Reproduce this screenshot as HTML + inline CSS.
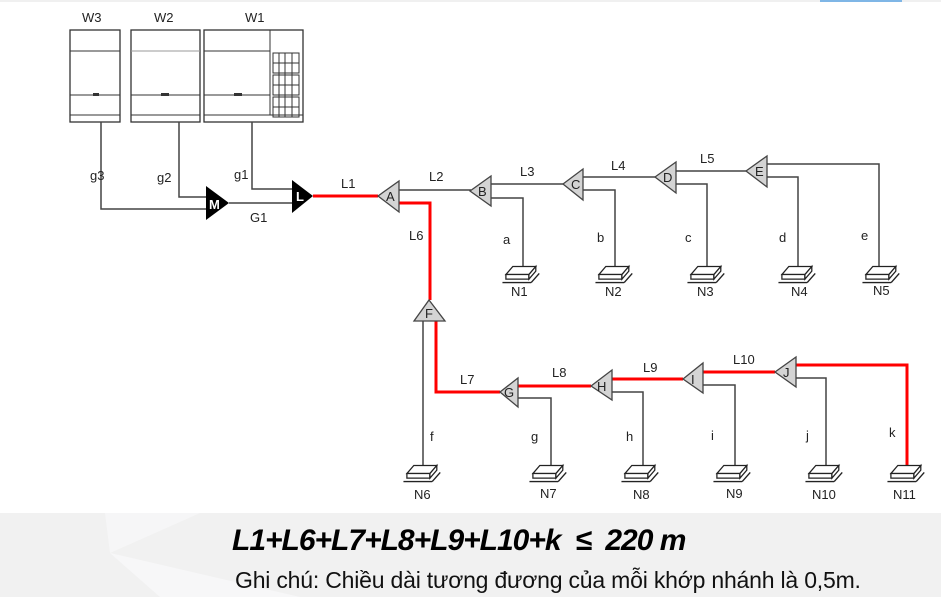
<!DOCTYPE html>
<html><head><meta charset="utf-8"><style>
html,body{margin:0;padding:0;background:#fff;}
body{width:941px;height:597px;overflow:hidden;position:relative;}
svg text{font-family:"Liberation Sans",Arial,sans-serif;font-size:13px;fill:#222;}
.band{position:absolute;left:0;top:513px;width:941px;height:84px;background:#f1f1f1;}
.f1{position:absolute;left:232px;top:524px;font-family:"Liberation Sans",sans-serif;font-weight:bold;font-style:italic;font-size:30px;letter-spacing:-1px;color:#000;white-space:nowrap;}
.f2{position:absolute;left:235px;top:567px;font-family:"Liberation Sans",sans-serif;font-size:23px;color:#111;letter-spacing:-0.2px;white-space:nowrap;}
</style></head><body>
<svg width="941" height="597" style="position:absolute;left:0;top:0">
<rect x="0" y="0" width="941" height="2" fill="#f0f0f0"/>
<rect x="820" y="0" width="82" height="2" fill="#7fb6e6"/>
<defs>
<g id="nd" transform="scale(1.15)">
<polygon points="-14,-3 -8,-10 12,-10 6,-3" fill="#fff" stroke="#222" stroke-width="1.1"/>
<polygon points="-14,-3 6,-3 6,1 -14,1" fill="#fff" stroke="#222" stroke-width="1.1"/>
<polygon points="6,-3 12,-10 12,-6 6,1" fill="#fff" stroke="#222" stroke-width="1.1"/>
<line x1="-17" y1="4" x2="8" y2="4" stroke="#222" stroke-width="1.2"/>
<line x1="8" y1="4" x2="15" y2="-4" stroke="#222" stroke-width="1.2"/>
</g>
</defs>
<g fill="#fff" stroke="#333" stroke-width="1.3">
<rect x="70" y="30" width="50" height="92"/>
<rect x="131" y="30" width="69" height="92"/>
<rect x="204" y="30" width="99" height="92"/>
</g>
<g stroke="#333" stroke-width="1">
<line x1="70" y1="51" x2="120" y2="51"/><line x1="70" y1="95" x2="120" y2="95"/><line x1="70" y1="115" x2="120" y2="115"/>
<line x1="131" y1="51" x2="200" y2="51" stroke="#999"/><line x1="131" y1="95" x2="200" y2="95"/><line x1="131" y1="115" x2="200" y2="115"/>
<line x1="204" y1="51" x2="270" y2="51"/><line x1="204" y1="95" x2="270" y2="95"/><line x1="204" y1="115" x2="303" y2="115"/>
<line x1="270" y1="30" x2="270" y2="115"/>
</g>
<g fill="#333"><rect x="93" y="93" width="6" height="3"/><rect x="161" y="93" width="8" height="3"/><rect x="234" y="93" width="8" height="3"/></g>
<g stroke="#333" stroke-width="1" fill="none">
<rect x="273" y="53" width="26" height="20"/><rect x="273" y="75" width="26" height="20"/><rect x="273" y="97" width="26" height="20"/>
<line x1="279" y1="53" x2="279" y2="117"/><line x1="285" y1="53" x2="285" y2="117"/><line x1="292" y1="53" x2="292" y2="117"/>
<line x1="273" y1="63" x2="299" y2="63"/><line x1="273" y1="85" x2="299" y2="85"/><line x1="273" y1="107" x2="299" y2="107"/>
</g>
<text x="82" y="22">W3</text><text x="154" y="22">W2</text><text x="245" y="22">W1</text>
<g stroke="#444" stroke-width="1.5" fill="none">
<polyline points="101,122 101,209 207,209"/>
<polyline points="179,122 179,197 207,197"/>
<polyline points="252,122 252,189 292,189"/>
<line x1="229" y1="203" x2="292" y2="203"/>
<line x1="399" y1="190" x2="471" y2="190"/>
<line x1="491" y1="184" x2="563" y2="184"/>
<line x1="583" y1="177" x2="655" y2="177"/>
<line x1="676" y1="171" x2="746" y2="171"/>
<polyline points="491,198 523,198 523,268"/>
<polyline points="583,190 615,190 615,268"/>
<polyline points="676,184 707,184 707,268"/>
<polyline points="767,177 798,177 798,268"/>
<polyline points="767,164 879,164 879,268"/>
<line x1="423" y1="321" x2="423" y2="466"/>
<polyline points="518,398 551,398 551,466"/>
<polyline points="612,392 643,392 643,466"/>
<polyline points="703,385 735,385 735,466"/>
<polyline points="796,378 826,378 826,466"/>
</g>
<g stroke="#f00" stroke-width="3" fill="none">
<line x1="313" y1="196" x2="378" y2="196"/>
<polyline points="399,203 430,203 430,300"/>
<polyline points="436,321 436,392 500,392"/>
<line x1="518" y1="386" x2="591" y2="386"/>
<line x1="612" y1="379" x2="683" y2="379"/>
<line x1="703" y1="372" x2="775" y2="372"/>
<polyline points="796,365 907,365 907,467"/>
</g>
<polygon points="206,186 229,203 206,220" fill="#000"/>
<polygon points="292,180 313,196 292,213" fill="#000"/>
<text x="209" y="209" style="fill:#fff;font-size:13px;font-weight:bold">M</text>
<text x="296" y="201" style="fill:#fff;font-size:13px;font-weight:bold">L</text>
<g fill="#d4d4d4" stroke="#444" stroke-width="1.3">
<polygon points="378,196 399,181 399,212"/>
<polygon points="470,191 491,176 491,206"/>
<polygon points="563,184 583,169 583,200"/>
<polygon points="655,177 676,162 676,193"/>
<polygon points="746,171 767,156 767,187"/>
<polygon points="429,300 445,321 414,321"/>
<polygon points="500,392 518,378 518,407"/>
<polygon points="591,386 612,370 612,400"/>
<polygon points="683,379 703,363 703,393"/>
<polygon points="775,372 796,357 796,387"/>
</g>
<g>
<text x="386" y="201">A</text><text x="478" y="196">B</text><text x="571" y="189">C</text><text x="663" y="182">D</text><text x="755" y="176">E</text>
<text x="425" y="318">F</text><text x="504" y="397">G</text><text x="597" y="391">H</text><text x="691" y="384">I</text><text x="783" y="377">J</text>
</g>
<use href="#nd" x="522" y="278"/><use href="#nd" x="615" y="278"/><use href="#nd" x="707" y="278"/><use href="#nd" x="798" y="278"/><use href="#nd" x="882" y="278"/>
<use href="#nd" x="423" y="477"/><use href="#nd" x="549" y="477"/><use href="#nd" x="641" y="477"/><use href="#nd" x="733" y="477"/><use href="#nd" x="825" y="477"/><use href="#nd" x="907" y="477"/>
<text x="90" y="180">g3</text><text x="157" y="182">g2</text><text x="234" y="179">g1</text><text x="250" y="222">G1</text>
<text x="341" y="188">L1</text><text x="429" y="181">L2</text><text x="520" y="176">L3</text><text x="611" y="170">L4</text><text x="700" y="163">L5</text><text x="409" y="240">L6</text>
<text x="503" y="244">a</text><text x="597" y="242">b</text><text x="685" y="242">c</text><text x="779" y="242">d</text><text x="861" y="240">e</text>
<text x="511" y="296">N1</text><text x="605" y="296">N2</text><text x="697" y="296">N3</text><text x="791" y="296">N4</text><text x="873" y="295">N5</text>
<text x="460" y="384">L7</text><text x="552" y="377">L8</text><text x="643" y="372">L9</text><text x="733" y="364">L10</text>
<text x="430" y="441">f</text><text x="531" y="441">g</text><text x="626" y="441">h</text><text x="711" y="440">i</text><text x="806" y="440">j</text><text x="889" y="437">k</text>
<text x="414" y="499">N6</text><text x="540" y="498">N7</text><text x="633" y="499">N8</text><text x="726" y="498">N9</text><text x="812" y="499">N10</text><text x="893" y="499">N11</text>
</svg>
<div class="band"></div>
<svg width="941" height="84" style="position:absolute;left:0;top:513px">
<polygon points="105,0 200,0 110,40" fill="#f6f6f7"/>
<polygon points="110,40 300,84 160,84" fill="#f7f7f8"/>
</svg>
<div class="f1">L1+L6+L7+L8+L9+L10+k &nbsp;≤ &nbsp;220 m</div>
<div class="f2">Ghi chú: Chiều dài tương đương của mỗi khớp nhánh là 0,5m.</div>
</body></html>
